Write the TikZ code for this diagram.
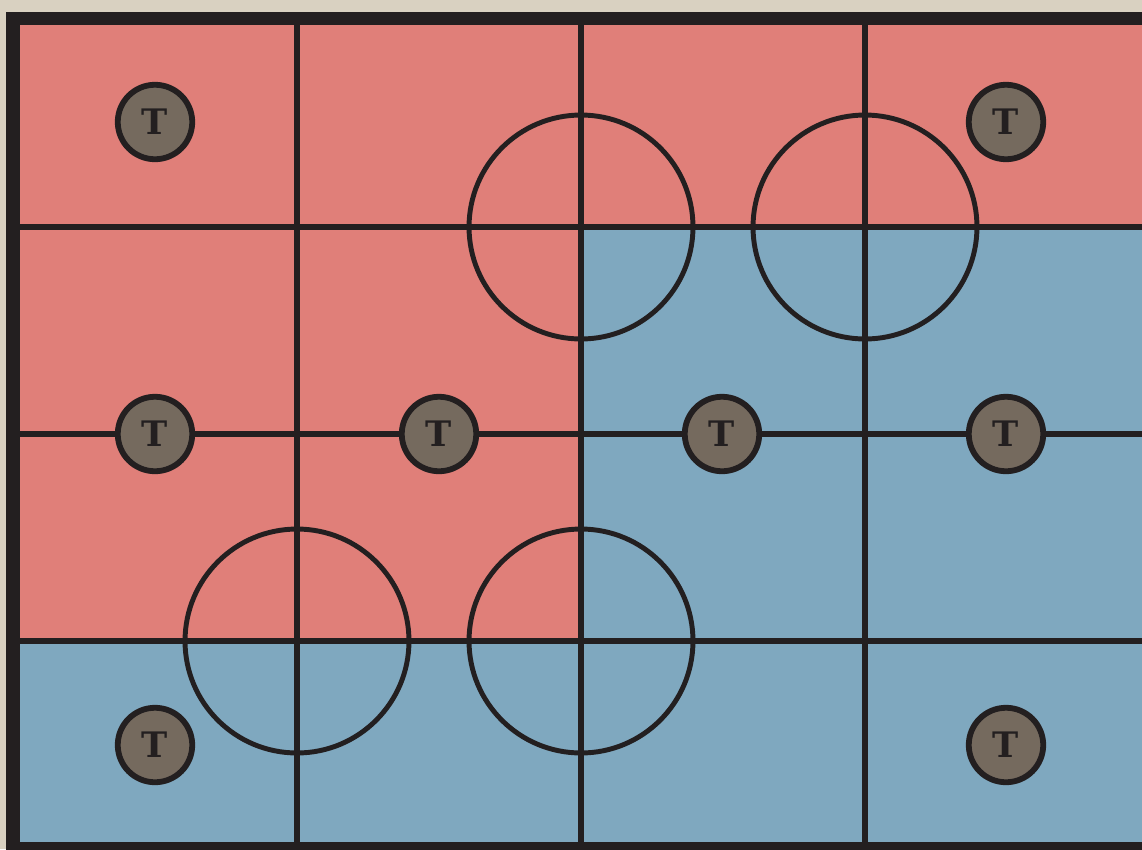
\documentclass[tikz,border=0pt]{standalone}
\usepackage{tikz}
\usepackage{fontspec}
\newfontfamily\tokenfont{DejaVu Serif}

\definecolor{paper}{HTML}{D9D1C1}
\definecolor{redzone}{HTML}{E07F79}
\definecolor{bluezone}{HTML}{7FA8BF}
\definecolor{ink}{HTML}{231F20}
\definecolor{tokenfill}{HTML}{756A5E}

\begin{document}
\begin{tikzpicture}[
    x=0.02cm, y=-0.02cm,
    token/.style={
        circle,
        draw=ink,
        fill=tokenfill,
        line width=3.3pt,
        minimum size=1.49cm,
        inner sep=0pt,
        font=\tokenfont\fontsize{20}{20}\selectfont\bfseries,
        text=ink
    },
    ring/.style={
        circle,
        draw=ink,
        line width=2.8pt,
        minimum size=4.48cm,
        inner sep=0pt
    },
    gridline/.style={draw=ink, line width=2.9pt}
]

% Page and clipping
\fill[paper] (0,0) rectangle (1142,849);
\useasboundingbox (0,0) rectangle (1142,849);
\clip (0,0) rectangle (1142,849);

% Zones
\fill[redzone] (13,18.5) rectangle (1149,227);
\fill[redzone] (13,227) rectangle (581,641);
\fill[bluezone] (581,227) rectangle (1149,641);
\fill[bluezone] (13,641) rectangle (1149,848);

% Grid
\foreach \gx in {297,581,865}
    \draw[gridline] (\gx,18.5) -- (\gx,848);
\foreach \gy in {227,434,641}
    \draw[gridline] (13,\gy) -- (1149,\gy);

% Outer frame
\draw[ink, line width=7.4pt] (13,18.5) rectangle (1149,848);

% Rings on the grid corners
\node[ring] (ringA) at (581,227) {};
\node[ring] (ringB) at (865,227) {};
\node[ring] (ringC) at (297,641) {};
\node[ring] (ringD) at (581,641) {};

% Tokens
\node[token] (t1) at (155,122) {T};
\node[token] (t2) at (1006,122) {T};
\node[token] (t3) at (155,434) {T};
\node[token] (t4) at (439,434) {T};
\node[token] (t5) at (722,434) {T};
\node[token] (t6) at (1006,434) {T};
\node[token] (t7) at (155,745) {T};
\node[token] (t8) at (1006,745) {T};

\end{tikzpicture}
\end{document}
